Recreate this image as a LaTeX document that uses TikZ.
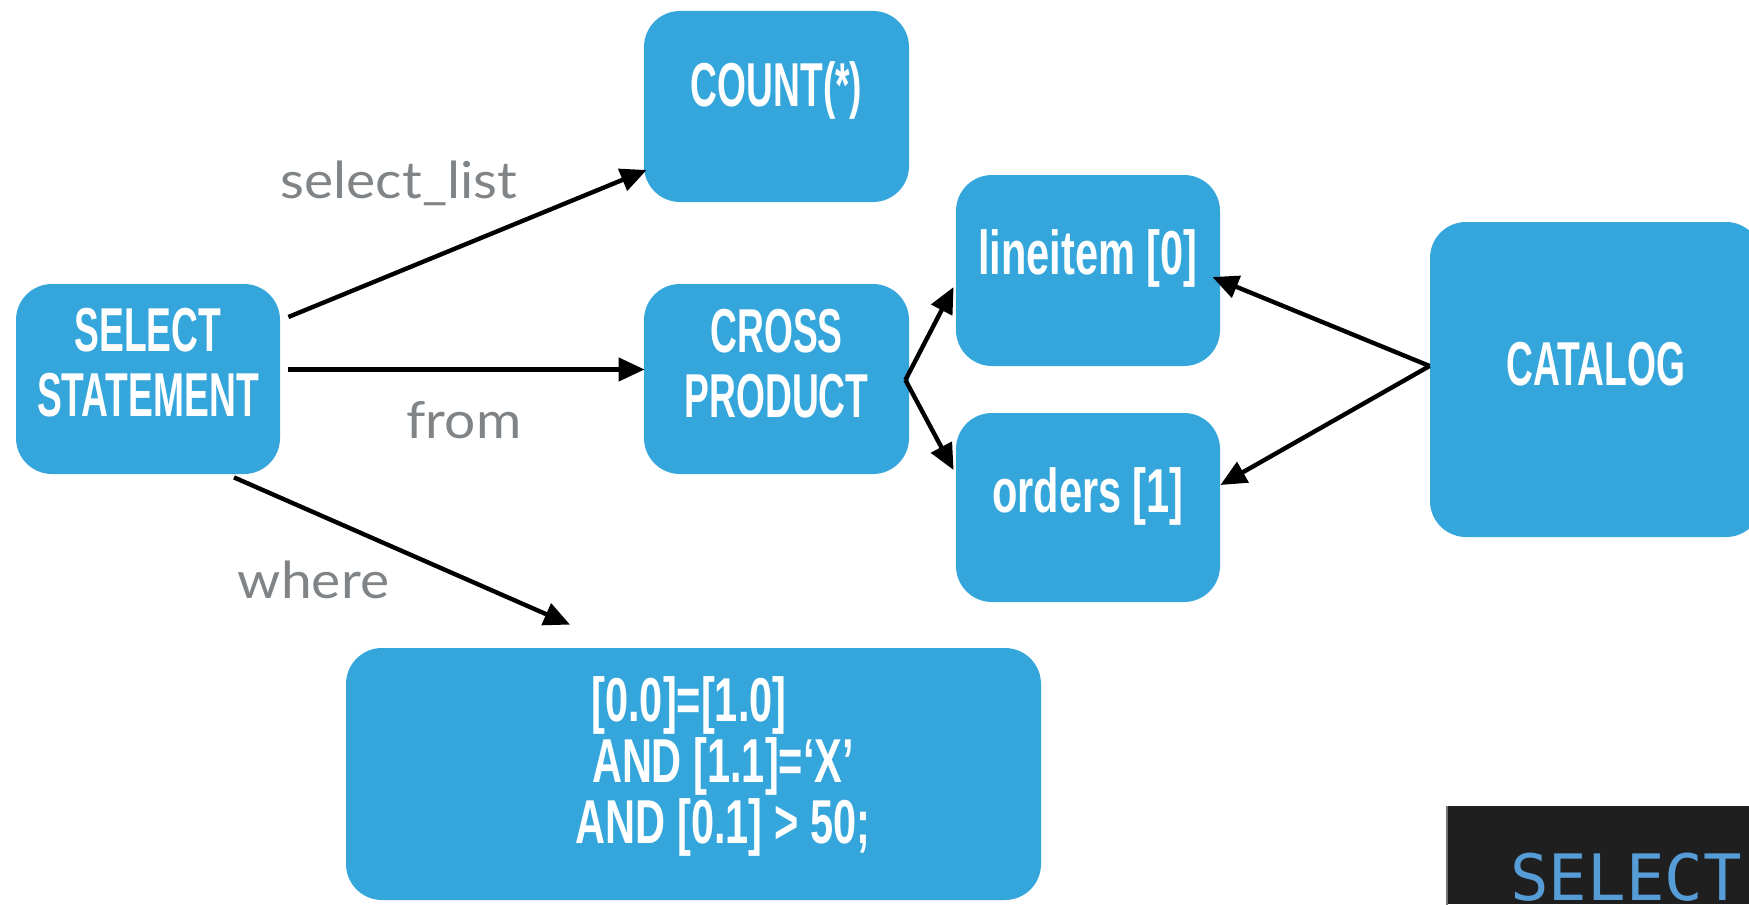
\documentclass[tikz,border=0pt]{standalone}
\usepackage{fontspec}
\usetikzlibrary{arrows.meta,calc}
\newfontfamily\dinfont[FakeStretch=0.6]{Liberation Sans}
\newfontfamily\dinwide[FakeStretch=0.67]{Liberation Sans}
\newfontfamily\labelfont[FakeStretch=1.08]{Lato}
\newfontfamily\codefont{DejaVu Sans Mono}
\definecolor{boxblue}{RGB}{53,166,219}
\definecolor{labelgray}{RGB}{128,132,135}
\definecolor{editorbg}{RGB}{31,31,31}
\definecolor{keyword}{RGB}{86,156,214}
\tikzset{
  box/.style={fill=boxblue, rounded corners=18pt, inner sep=0pt},
  boxtext/.style={text=white, align=center, inner sep=0pt,
    font={\dinfont\bfseries\fontsize{31}{32.5}\selectfont}},
  widetext/.style={boxtext, font={\dinwide\bfseries\fontsize{31}{32.5}\selectfont}},
  edgelabel/.style={text=labelgray, inner sep=0pt, anchor=base,
    font={\labelfont\fontsize{25.5}{28}\selectfont}},
  link/.style={draw=black, line width=2.2pt, -{Triangle[length=13pt,width=11.5pt]}},
}
\begin{document}
\begin{tikzpicture}[x=0.5pt, y=-0.5pt]
\useasboundingbox (0,0) rectangle (1749,904);
\clip (0,0) rectangle (1749,904);

% query tree boxes
\node[box, minimum width=132pt, minimum height=95pt] (sel) at (148,379) {};
\node[boxtext] (selt) at (148,362.5) {SELECT\\STATEMENT};

\node[box, minimum width=132.5pt, minimum height=95.5pt] (cnt) at (776.5,106.5) {};
\node[boxtext] (cntt) at (776.5,90) {COUNT(*)};

\node[box, minimum width=132.5pt, minimum height=95pt] (cross) at (776.5,379) {};
\node[boxtext] (crosst) at (776.5,363.5) {CROSS\\PRODUCT};

\node[box, minimum width=132pt, minimum height=95.5pt] (li) at (1088,270.5) {};
\node[widetext] (lit) at (1088,258) {lineitem [0]};

\node[box, minimum width=132pt, minimum height=94.5pt] (ord) at (1088,507.5) {};
\node[widetext] (ordt) at (1088,496) {orders [1]};

\node[box, minimum width=166pt, minimum height=157.5pt] (cat) at (1596,379.5) {};
\node[boxtext] (catt) at (1596,364.5) {CATALOG};

\node[box, minimum width=347.5pt, minimum height=126pt] (whr) at (693.5,774) {};
\node[widetext, font={\dinwide\bfseries\fontsize{31}{30.5}\selectfont}] (whrt) at (689,766)
  {[0.0]=[1.0]\\\hspace*{34pt}AND [1.1]=‘X’\\\hspace*{34pt}AND [0.1] > 50;};

% editor strip
\node[fill=editorbg, inner sep=0pt, anchor=north west,
      minimum width=151pt, minimum height=49pt] (editor) at (1447,806) {};
\draw[black!55, line width=0.6pt] (editor.north west) -- (editor.south west);
\node[text=keyword, inner sep=0pt, anchor=base west,
      font={\codefont\fontsize{32}{36}\selectfont}] (kw) at (1510,900) {SELECT};

% connectors
\draw[link] ($(sel.east)+(8,-62)$) -- ($(cnt.west)+(3,63.5)$);
\draw[link] ($(sel.east)+(8,-9.5)$) -- ($(cross.west)+(1,-9.5)$);
\draw[link] ($(sel.south)+(86,3)$) -- ($(whr.north)+(-123.5,-23)$);
\draw[link] ($(cross.east)+(-4,1)$) -- ($(li.west)+(-2,16.5)$);
\draw[link] ($(cross.east)+(-4,1)$) -- ($(ord.west)+(-2,-37.5)$);
\draw[link] ($(cat.west)+(0,-13.5)$) -- ($(li.east)+(-8,6.5)$);
\draw[link] ($(cat.west)+(0,-13.5)$) -- ($(ord.east)+(0,-22.5)$);

% edge labels
\node[edgelabel] (lsel) at (399,198) {select\_list};
\node[edgelabel] (lfrom) at (464,438) {from};
\node[edgelabel] (lwhere) at (313.5,598) {where};
\end{tikzpicture}
\end{document}
